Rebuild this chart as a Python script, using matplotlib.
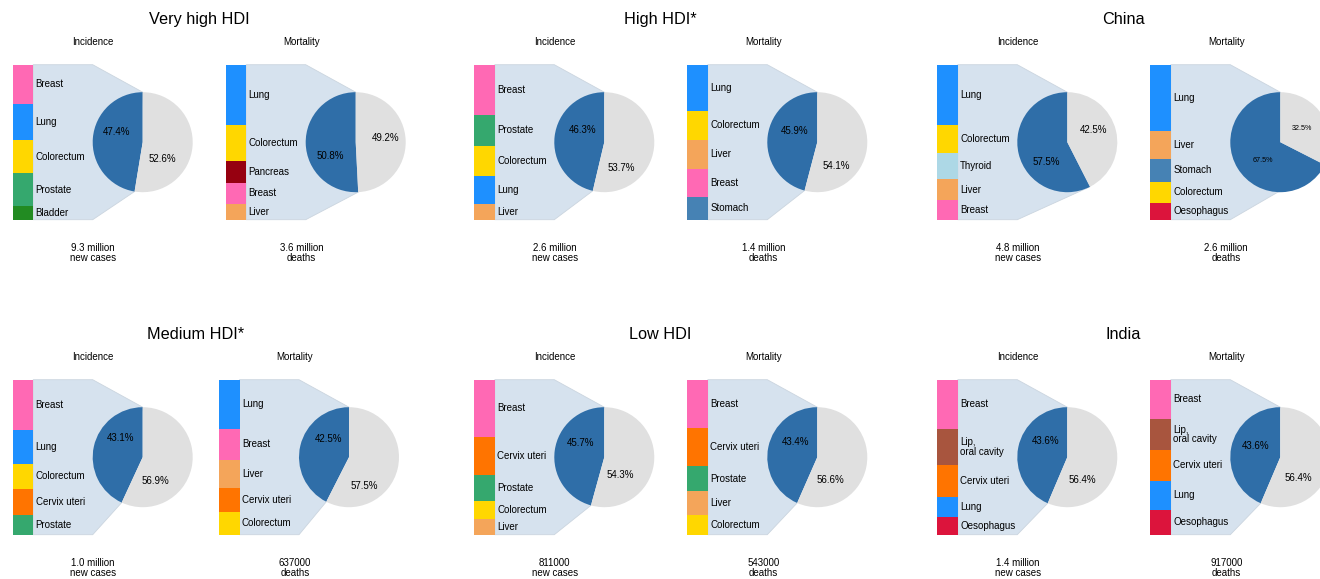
import matplotlib.pyplot as plt
import numpy as np

plt.rcParams['font.family'] = ['Liberation Sans', 'DejaVu Sans']

# =========================
# DATA
# =========================
groups = ["Very high HDI", "High HDI*", "China", "Medium HDI*", "Low HDI", "India"]

inc_totals = ["9.3 million", "2.6 million", "4.8 million", "1.0 million", "811000", "1.4 million"]
mort_totals = ["3.6 million", "1.4 million", "2.6 million", "637000", "543000", "917000"]

# share (%) of the five leading sites in all cancers
inc_share = [47.4, 46.3, 57.5, 43.1, 45.7, 43.6]
mort_share = [50.8, 45.9, 67.5, 42.5, 43.4, 43.6]

inc_sites = [
    ["Breast", "Lung", "Colorectum", "Prostate", "Bladder"],
    ["Breast", "Prostate", "Colorectum", "Lung", "Liver"],
    ["Lung", "Colorectum", "Thyroid", "Liver", "Breast"],
    ["Breast", "Lung", "Colorectum", "Cervix uteri", "Prostate"],
    ["Breast", "Cervix uteri", "Prostate", "Colorectum", "Liver"],
    ["Breast", "Lip,\noral cavity", "Cervix uteri", "Lung", "Oesophagus"],
]
# new cases, thousands (estimated)
inc_cases = [
    [1119, 1015, 957, 939, 379],
    [388, 241, 238, 212, 124],
    [1074, 505, 463, 362, 356],
    [139, 95, 70, 71, 56],
    [136, 91, 62, 44, 37],
    [193, 142, 126, 81, 68],
]

mort_sites = [
    ["Lung", "Colorectum", "Pancreas", "Breast", "Liver"],
    ["Lung", "Colorectum", "Liver", "Breast", "Stomach"],
    ["Lung", "Liver", "Stomach", "Colorectum", "Oesophagus"],
    ["Lung", "Breast", "Liver", "Cervix uteri", "Colorectum"],
    ["Breast", "Cervix uteri", "Prostate", "Liver", "Colorectum"],
    ["Breast", "Lip,\noral cavity", "Cervix uteri", "Lung", "Oesophagus"],
]
# deaths, thousands (estimated)
mort_deaths = [
    [716, 417, 264, 244, 189],
    [191, 120, 120, 119, 93],
    [747, 317, 260, 242, 189],
    [86, 54, 49, 42, 40],
    [73, 59, 37, 37, 30],
    [101, 80, 80, 74, 65],
]

site_colors = {
    "Breast": "#ff69b4",
    "Lung": "#1e90ff",
    "Colorectum": "#ffd700",
    "Prostate": "#35a86e",
    "Bladder": "#228b22",
    "Pancreas": "#960010",
    "Liver": "#f4a55a",
    "Stomach": "#4682b4",
    "Thyroid": "#add8e6",
    "Oesophagus": "#dc143c",
    "Cervix uteri": "#ff7400",
    "Lip,\noral cavity": "#a8553e",
}

# =========================
# LAYOUT (pixels)
# =========================
W, H = 1320, 579
R = 50
col_x = [142.7, 604.3, 1067.3]
row_y = [142.2, 457.2]
MORT_DX = 213
mort_shift = [0, 0, 0, -6.7, 0, 0]

# percent label offsets (radius units): (dark dx, dy, grey dx, dy)
inc_lbl = [(-0.53, 0.21, 0.39, -0.34), (-0.44, 0.24, 0.33, -0.51), (-0.43, -0.39, 0.52, 0.24),
           (-0.44, 0.38, 0.25, -0.47), (-0.47, 0.29, 0.31, -0.36), (-0.43, 0.33, 0.31, -0.46)]
mort_lbl = [(-0.51, -0.28, 0.60, 0.09), (-0.46, 0.23, 0.37, -0.47), (-0.35, -0.36, 0.43, 0.28),
            (-0.41, 0.36, 0.31, -0.57), (-0.44, 0.30, 0.27, -0.46), (-0.49, 0.23, 0.37, -0.42)]
mort_pct_fs = [7, 7, 5.2, 7, 7, 7]

DARK = "#2f6ea8"
GREY = "#e0e0e0"
SHADE = "#d6e2ee"

fig = plt.figure(figsize=(13.2, 5.79), dpi=100)
ax = fig.add_axes([0, 0, 1, 1])


def panel(cx, cy, sites, vals, share, lbl, pct_fs):
    cy = H - cy
    top, bot = cy + 77.5, cy - 77.5
    xl = cx - 130
    xr = xl + 20.5

    # shaded connector between bar and pie wedge
    ang = np.deg2rad(90 + 3.6 * share)
    ex, ey = cx + R * np.cos(ang), cy + R * np.sin(ang)
    ax.fill([xr, cx - R, cx, ex, cx - R, xr], [top, top, cy + R, ey, bot, bot],
            fc=SHADE, ec="#cbd5df", lw=0.6, zorder=0.5)

    # stacked bar of the five sites
    vals = np.array(vals, float)
    h = vals / vals.sum() * (top - bot)
    bottoms = top - np.cumsum(h)
    ax.bar(xl, h, bottom=bottoms, width=xr - xl, align="edge",
           color=[site_colors[s] for s in sites], lw=0, zorder=2)
    for s, b, hh in zip(sites, bottoms, h):
        ax.text(xr + 2.4, b + hh / 2, s, ha="left", va="center", fontsize=7,
                linespacing=0.95, zorder=3)

    # pie
    ax.pie([share, 100 - share], colors=[DARK, GREY], startangle=90,
           counterclock=True, center=(cx, cy), radius=R,
           wedgeprops=dict(lw=0))
    ax.text(cx + lbl[0] * R, cy + lbl[1] * R, f"{share:.1f}%", ha="center",
            va="center", fontsize=pct_fs, zorder=4)
    ax.text(cx + lbl[2] * R, cy + lbl[3] * R, f"{100 - share:.1f}%", ha="center",
            va="center", fontsize=pct_fs, zorder=4)


for i, g in enumerate(groups):
    cy = row_y[i // 3]
    cx_i = col_x[i % 3]
    cx_m = cx_i + MORT_DX + mort_shift[i]

    panel(cx_i, cy, inc_sites[i], inc_cases[i], inc_share[i], inc_lbl[i], 7)
    panel(cx_m, cy, mort_sites[i], mort_deaths[i], mort_share[i], mort_lbl[i], mort_pct_fs[i])

    yd = H - cy
    sx_i = cx_i - 49.5
    sx_m = cx_m - 54
    ax.text(sx_i, yd + 100, "Incidence", ha="center", va="center", fontsize=7)
    ax.text(sx_m, yd + 100, "Mortality", ha="center", va="center", fontsize=7)
    ax.text(sx_i, yd - 111, inc_totals[i] + "\nnew cases", ha="center", va="center",
            fontsize=7, linespacing=1.0)
    ax.text(sx_m, yd - 111, mort_totals[i] + "\ndeaths", ha="center", va="center",
            fontsize=7, linespacing=1.0)
    ax.text((sx_i + sx_m) / 2 + 1.5, yd + 123, g, ha="center", va="center", fontsize=11.7)

ax.set_aspect("auto")
ax.set_xlim(0, W)
ax.set_ylim(0, H)
ax.axis("off")

fig.savefig("out.png", dpi=100)
